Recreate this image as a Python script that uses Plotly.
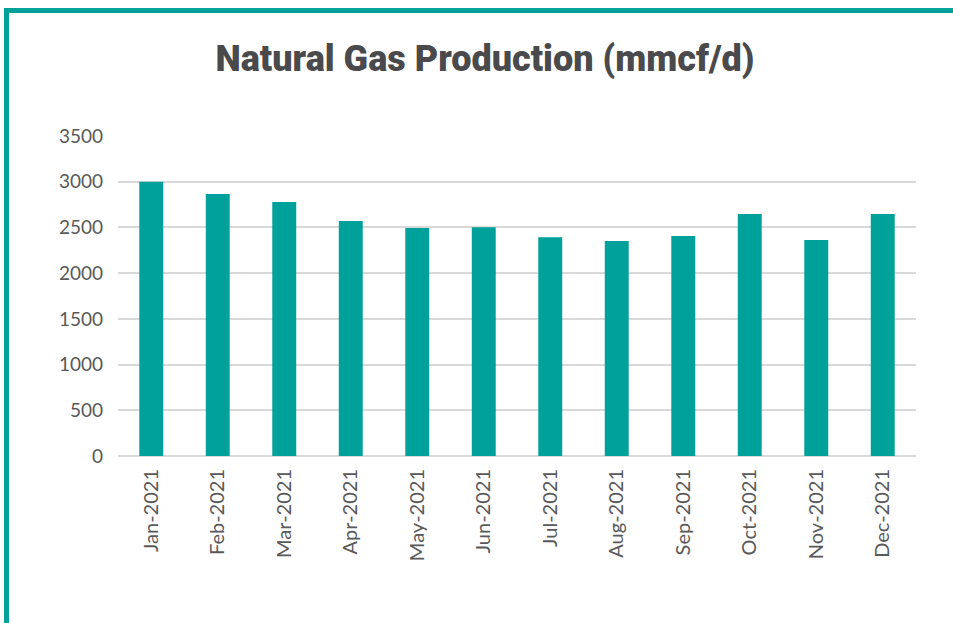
import plotly.graph_objects as go

months = ["Jan-2021", "Feb-2021", "Mar-2021", "Apr-2021", "May-2021", "Jun-2021",
          "Jul-2021", "Aug-2021", "Sep-2021", "Oct-2021", "Nov-2021", "Dec-2021"]
production = [3000, 2865, 2778, 2570, 2494, 2501, 2392, 2351, 2406, 2647, 2362, 2647]
y_ticks = [0, 500, 1000, 1500, 2000, 2500, 3000, 3500]

W, H = 953, 623
L, R, T, B = 118, 37, 136, 167
pw, ph = W - L - R, H - T - B

def px_x(x):
    return (x - L) / pw

def px_y(y):
    return (H - B - y) / ph

teal = "#00A19A"

fig = go.Figure(go.Bar(x=months, y=production, marker=dict(color=teal, line=dict(width=0))))

fig.update_layout(
    width=W, height=H,
    margin=dict(l=L, r=R, t=T, b=B, autoexpand=False),
    paper_bgcolor="white", plot_bgcolor="white",
    bargap=0.64,
    showlegend=False,
    title=dict(text="Natural Gas Production (mmcf/d)", x=485 / W, xanchor="center",
               y=1 - 58 / H, yanchor="middle",
               font=dict(family="Roboto, Arial", size=36, color="#4a4a4c", weight=900)),
    font=dict(family="Lato, Carlito, Arial", color="#595959"),
    xaxis=dict(tickangle=-90, tickfont=dict(size=20, color="#595959"), showgrid=False,
               showline=False, ticks="", ticklen=0, zeroline=False, ticklabelstandoff=8),
    yaxis=dict(range=[0, 3500], tickvals=y_ticks, tickfont=dict(size=19, color="#595959"),
               showgrid=True, gridcolor="#d9d9d9", gridwidth=2, zeroline=True,
               zerolinecolor="#d9d9d9", zerolinewidth=2, showline=False, ticks="",
               ticklabelstandoff=14),
    shapes=[
        dict(type="line", xref="paper", yref="paper", x0=px_x(4), x1=px_x(W + 5),
             y0=px_y(10.5), y1=px_y(10.5), line=dict(color=teal, width=5), layer="above"),
        dict(type="line", xref="paper", yref="paper", x0=px_x(6.5), x1=px_x(6.5),
             y0=px_y(8), y1=px_y(H + 5), line=dict(color=teal, width=5), layer="above"),
    ],
)

fig.write_html("out.html", config={"displayModeBar": False},
               post_script="document.body.style.margin='0';document.body.style.overflow='hidden';")
